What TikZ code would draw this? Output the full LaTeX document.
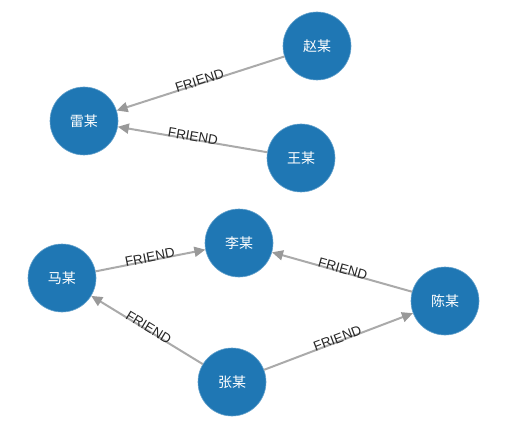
\documentclass[tikz,border=0pt]{standalone}
\usepackage{fontspec}
\setmainfont{Liberation Sans}
\newfontfamily\cjk{Noto Sans CJK SC}
\usetikzlibrary{arrows.meta}

\definecolor{nodeblue}{HTML}{1F77B4}
\definecolor{linkgray}{HTML}{AAAAAA}
\definecolor{tipgray}{HTML}{999999}

\tikzset{
  person/.style={circle, fill=nodeblue, draw=nodeblue!70!white, line width=0.6pt,
    minimum size=68pt, inner sep=0pt, text=white, font=\cjk\fontsize{14pt}{14pt}\selectfont},
  rel/.style={draw=linkgray, line width=2pt,
    -{Triangle[length=11pt,width=10pt,fill=tipgray,color=tipgray]}},
  rellabel/.style={sloped, above=-2.5pt, inner sep=0pt, text=black!85,
    font=\fontsize{13.5pt}{13.5pt}\selectfont}
}

\begin{document}
\begin{tikzpicture}[x=1pt, y=-1pt]
    \useasboundingbox (0,0) rectangle (507,428);

    \node[person] (zhao) at (317,46)  {赵某};
    \node[person] (lei)  at (84,121)  {雷某};
    \node[person] (wang) at (301,158) {王某};
    \node[person] (li)   at (239,243) {李某};
    \node[person] (ma)   at (62,278)  {马某};
    \node[person] (chen) at (445,301) {陈某};
    \node[person] (zhang) at (232,382) {张某};

    \draw[rel] (zhao) -- node[rellabel] {FRIEND} (lei);
    \draw[rel] (wang) -- node[rellabel] {FRIEND} (lei);
    \draw[rel] (ma) -- node[rellabel] {FRIEND} (li);
    \draw[rel] (chen) -- node[rellabel] {FRIEND} (li);
    \draw[rel] (zhang) -- node[rellabel] {FRIEND} (ma);
    \draw[rel] (zhang) -- node[rellabel] {FRIEND} (chen);

\end{tikzpicture}
\end{document}
